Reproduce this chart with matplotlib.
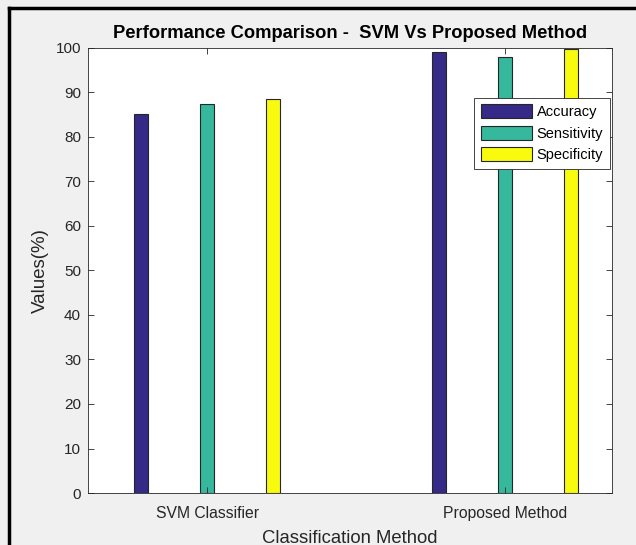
import numpy as np
import matplotlib
matplotlib.use("Agg")
import matplotlib.pyplot as plt
from matplotlib.lines import Line2D

# data
methods = ["SVM Classifier", "Proposed Method"]
accuracy = [85.1, 99.0]
sensitivity = [87.4, 98.0]
specificity = [88.5, 99.8]
series_names = ["Accuracy", "Sensitivity", "Specificity"]
colors = ["#352a87", "#35b89c", "#f9fb0e"]

plt.rcParams['font.family'] = ['Liberation Sans', 'DejaVu Sans']

fig = plt.figure(figsize=(6.36, 5.45), dpi=100)
fig.patch.set_facecolor("#f0f0f0")
# black frame of the screenshot (left and top)
fig.add_artist(Line2D([0.014, 0.014], [0, 0.985], color="black", lw=2.5, transform=fig.transFigure))
fig.add_artist(Line2D([0.014, 1.0], [0.985, 0.985], color="black", lw=2.5, transform=fig.transFigure))

ax = fig.add_axes([0.1384, 0.0954, 0.8236, 0.8166])
x = np.arange(1, len(methods) + 1)
offs = 0.222
w = 0.047
for i, (vals, name, c) in enumerate(zip([accuracy, sensitivity, specificity], series_names, colors)):
    ax.bar(x + (i - 1) * offs, vals, width=w, color=c, edgecolor="#262626", linewidth=0.8, label=name)

ax.set_xlim(0.6, 2.36)
ax.set_ylim(0, 100)
ax.set_yticks(np.arange(0, 101, 10))
ax.set_xticks(x)
ax.set_xticklabels(methods)
ax.tick_params(direction="in", top=True, right=True, length=4, width=0.6, colors="#262626")
ax.tick_params(axis="y", labelsize=11, pad=5)
ax.tick_params(axis="x", labelsize=11.3, pad=9.5)
for s in ax.spines.values():
    s.set_color("#262626")
    s.set_linewidth(0.6)

ax.set_title("Performance Comparison -  SVM Vs Proposed Method", fontsize=13.2, fontweight="bold", pad=7)
ax.set_ylabel("Values(%)", fontsize=13.5, color="#262626", labelpad=5)
ax.set_xlabel("Classification Method", fontsize=13.3, color="#262626", labelpad=6)

leg = ax.legend(loc="upper right", bbox_to_anchor=(0.996, 0.888), fontsize=10.5, handlelength=3.5, handleheight=1.1,
                borderaxespad=0, borderpad=0.45, labelspacing=0.45, handletextpad=0.35, fancybox=False, framealpha=1)
leg.get_frame().set_edgecolor("#262626")
leg.get_frame().set_linewidth(0.6)

fig.savefig("out.png", dpi=100, facecolor=fig.get_facecolor())
